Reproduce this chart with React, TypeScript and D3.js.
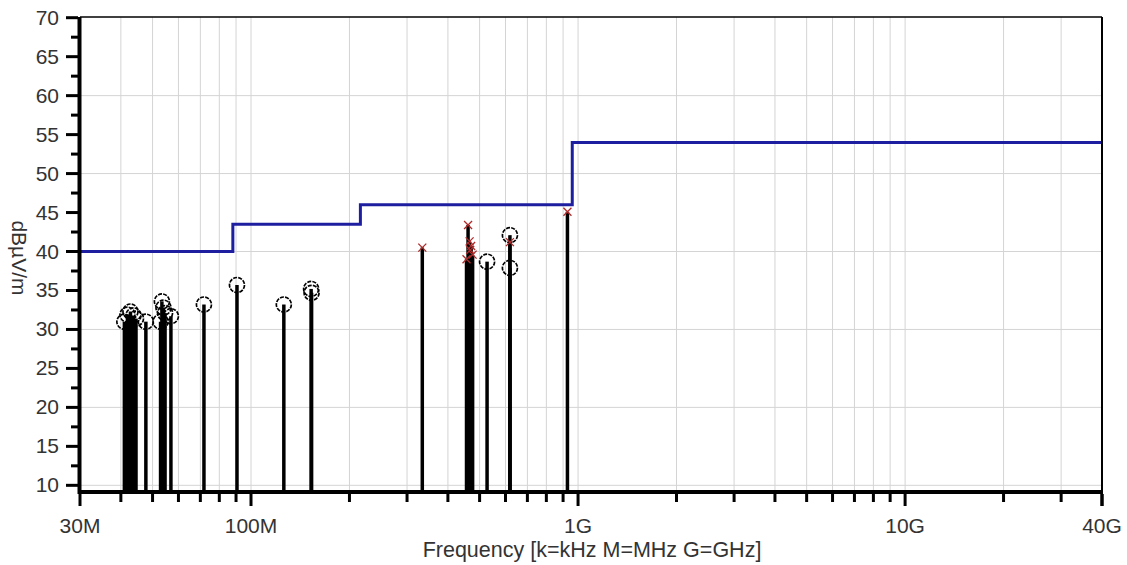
import React from 'react';
import * as d3 from 'd3';

// ---- data (frequencies in MHz, levels in dBµV/m) ----
const circleFreqsMHz = [41.0, 41.9, 42.8, 43.7, 44.5, 47.7, 52.9, 53.4, 54.0, 54.6, 56.9, 71.8, 90.6, 126, 152.7, 153.2, 527, 619, 619];
const circleLevels = [31.0, 31.9, 32.3, 31.8, 31.4, 31.0, 31.0, 33.6, 32.8, 32.1, 31.7, 33.2, 35.7, 33.2, 35.2, 34.7, 38.7, 42.1, 37.9];
const crossFreqsMHz = [334, 456, 461, 466, 468, 471, 476, 619, 928];
const crossLevels = [40.5, 39.0, 43.4, 41.3, 40.2, 40.7, 39.6, 41.2, 45.1];
const limitFreqsMHz = [30, 88, 216, 960, 40000];
const limitLevels = [40, 43.5, 46, 54, 54];
const xTickLabels = ['30M', '100M', '1G', '10G', '40G'];
const xTickLabelFreqsMHz = [30, 100, 1000, 10000, 40000];
const yTickLabels = [10, 15, 20, 25, 30, 35, 40, 45, 50, 55, 60, 65, 70];
const yGridLevels = [10, 20, 30, 40, 50, 60];

const W = 1127;
const H = 565;
const L = 80, T = 17, R = 1102, B = 490;
const FONT = '"Liberation Sans", Arial, sans-serif';
const TXT = '#333';

export default function App() {
  const x = d3.scaleLog().domain([30, 40000]).range([L, R]);
  const y = d3.scaleLinear().domain([9.4, 70]).range([B, T + 0.7]);

  // minor log ticks
  const logTicks: number[] = [];
  for (let e = 1; e <= 4; e++) {
    for (let m = 1; m <= 9; m++) {
      const v = m * Math.pow(10, e);
      if (v >= 30 && v <= 40000) logTicks.push(v);
    }
  }
  const gridX = logTicks.filter((v) => v > 30 && v < 40000);
  const yTicks: number[] = [];
  for (let v = 10; v <= 70.001; v += 2.5) yTicks.push(v);

  const limitLine = d3
    .line<number>()
    .x((_, i) => x(limitFreqsMHz[i]))
    .y((_, i) => y(limitLevels[i]))
    .curve(d3.curveStepAfter)(limitLevels) as string;

  const cross = (cx: number, cy: number, s: number) =>
    `M${cx - s},${cy - s}L${cx + s},${cy + s}M${cx - s},${cy + s}L${cx + s},${cy - s}`;

  return (
    <svg
      width={W}
      height={H}
      style={{ position: 'absolute', left: 0, top: 0, background: '#fff' }}
      fontFamily={FONT}
    >
      <rect x={0} y={0} width={W} height={H} fill="#fff" />
      {/* grid */}
      {gridX.map((v) => (
        <line key={'gx' + v} x1={x(v)} x2={x(v)} y1={T} y2={B} stroke="#d4d4d4" strokeWidth={1} />
      ))}
      {yGridLevels.map((v) => (
        <line key={'gy' + v} x1={L} x2={R} y1={y(v)} y2={y(v)} stroke="#d4d4d4" strokeWidth={1} />
      ))}
      {/* stems */}
      {circleFreqsMHz.map((f, i) => (
        <line key={'sc' + i} x1={x(f)} x2={x(f)} y1={B} y2={y(circleLevels[i])} stroke="#000" strokeWidth={3.5} />
      ))}
      {crossFreqsMHz.map((f, i) => (
        <line key={'sx' + i} x1={x(f)} x2={x(f)} y1={B} y2={y(crossLevels[i])} stroke="#000" strokeWidth={3.5} />
      ))}
      {/* markers */}
      {circleFreqsMHz.map((f, i) => (
        <circle
          key={'c' + i}
          cx={x(f)}
          cy={y(circleLevels[i])}
          r={7.5}
          fill="none"
          stroke="#000"
          strokeWidth={1.7}
          strokeDasharray="4 1.2"
        />
      ))}
      {crossFreqsMHz.map((f, i) => (
        <path key={'x' + i} d={cross(x(f), y(crossLevels[i]), 4)} stroke="#b02a2a" strokeWidth={1.3} fill="none" />
      ))}
      {/* limit line */}
      <path d={limitLine} fill="none" stroke="#1e1ea0" strokeWidth={3} />
      {/* frame */}
      <line x1={L} x2={R} y1={T} y2={T} stroke="#000" strokeWidth={1.5} />
      <line x1={R} x2={R} y1={T} y2={B + 2} stroke="#000" strokeWidth={2} />
      <line x1={L - 2} x2={R + 1} y1={B + 2} y2={B + 2} stroke="#000" strokeWidth={4} />
      <line x1={L - 0.5} x2={L - 0.5} y1={T} y2={B + 4} stroke="#000" strokeWidth={4} />
      {/* x ticks */}
      {logTicks.map((v) => {
        const major = xTickLabelFreqsMHz.includes(v);
        return (
          <line key={'tx' + v} x1={x(v)} x2={x(v)} y1={B + 4} y2={B + (major ? 16 : 12)} stroke="#000" strokeWidth={3} />
        );
      })}
      <line x1={x(40000)} x2={x(40000)} y1={B + 4} y2={B + 16} stroke="#000" strokeWidth={3} />
      {xTickLabels.map((t, i) => (
        <text key={'lx' + t} x={x(xTickLabelFreqsMHz[i])} y={533} textAnchor="middle" fontSize={21} fill={TXT}>
          {t}
        </text>
      ))}
      {/* y ticks */}
      {yTicks.map((v) => {
        const major = Math.abs(v % 5) < 0.01;
        return (
          <line key={'ty' + v} x1={major ? 66 : 71} x2={L - 2} y1={y(v)} y2={y(v)} stroke="#000" strokeWidth={3} />
        );
      })}
      {yTickLabels.map((v) => (
        <text key={'ly' + v} x={59} y={y(v) + 7} textAnchor="end" fontSize={21} fill={TXT}>
          {v}
        </text>
      ))}
      {/* axis titles */}
      <text x={592} y={557} textAnchor="middle" fontSize={21.5} fill={TXT}>
        Frequency [k=kHz M=MHz G=GHz]
      </text>
      <text transform="translate(12,258) rotate(90)" textAnchor="middle" fontSize={21} fill={TXT}>
        dBµV/m
      </text>
    </svg>
  );
}
